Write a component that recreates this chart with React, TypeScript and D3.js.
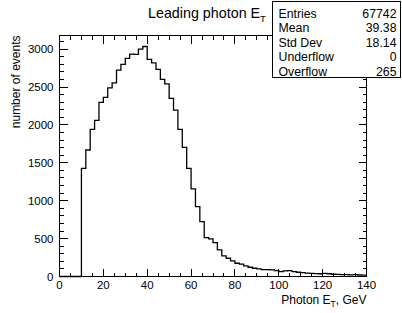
import React from 'react';
import * as d3 from 'd3';

// bin contents, 2 GeV bins from 0 to 140
const binLow = 0;
const binWidth = 2;
const counts = [
  0, 0, 0, 0, 0,
  1427, 1669, 1941, 2060, 2297, 2363, 2490, 2556, 2723, 2798, 2877, 2934, 2930, 3000, 3035,
  2864, 2819, 2732, 2600, 2543, 2350, 2196, 1941, 1704, 1427, 1155, 921, 724, 513, 496, 447,
  351, 271, 241, 206, 175, 162, 140, 122, 109, 100, 91, 91, 87, 78, 65, 74, 78, 65, 56,
  50, 45, 42, 38, 36, 40, 36, 30, 28, 26, 24, 22, 26, 20, 18,
];

const xMajor = [0, 20, 40, 60, 80, 100, 120, 140];
const yMajor = [0, 500, 1000, 1500, 2000, 2500, 3000];

const statLabels = ['Entries', 'Mean', 'Std Dev', 'Underflow', 'Overflow'];
const statValues = ['67742', '39.38', '18.14', '0', '265'];

const W = 402;
const H = 313;
const font = '"Liberation Sans", Arial, Helvetica, sans-serif';

const App: React.FC = () => {
  const x = d3.scaleLinear().domain([0, 140]).range([59.5, 366.5]);
  const y = d3.scaleLinear().domain([0, 3180]).range([276.5, 35.5]);

  // outline of the histogram
  const pts: [number, number][] = [];
  counts.forEach((c, i) => {
    const lo = binLow + i * binWidth;
    pts.push([lo, c], [lo + binWidth, c]);
  });
  const line = d3.line<[number, number]>()
    .x(d => x(d[0]))
    .y(d => y(d[1]));

  const xMinor = d3.range(0, 141, 5).filter(v => v % 20 !== 0);
  const yMinor = d3.range(0, 3181, 100).filter(v => v % 500 !== 0);

  const [x0, x1] = x.range();
  const [y0, y1] = y.range();

  return (
    <svg width={W} height={H} style={{ position: 'absolute', left: 0, top: 0, background: '#fff' }}
      fontFamily={font}>
      <rect x={0} y={0} width={W} height={H} fill="#fff" />

      {/* frame */}
      <rect x={x0} y={y1} width={x1 - x0} height={y0 - y1} fill="none" stroke="#000" strokeWidth={1}
        shapeRendering="crispEdges" />

      {/* ticks on all four sides */}
      <g stroke="#000" strokeWidth={1} shapeRendering="crispEdges">
        {xMajor.map(v => (
          <g key={'xm' + v}>
            <line x1={x(v)} x2={x(v)} y1={y0} y2={y0 - 8} />
            <line x1={x(v)} x2={x(v)} y1={y1} y2={y1 + 8} />
          </g>
        ))}
        {xMinor.map(v => (
          <g key={'xn' + v}>
            <line x1={x(v)} x2={x(v)} y1={y0} y2={y0 - 4} />
            <line x1={x(v)} x2={x(v)} y1={y1} y2={y1 + 4} />
          </g>
        ))}
        {yMajor.map(v => (
          <g key={'ym' + v}>
            <line x1={x0} x2={x0 + 8} y1={y(v)} y2={y(v)} />
            <line x1={x1} x2={x1 - 8} y1={y(v)} y2={y(v)} />
          </g>
        ))}
        {yMinor.map(v => (
          <g key={'yn' + v}>
            <line x1={x0} x2={x0 + 4} y1={y(v)} y2={y(v)} />
            <line x1={x1} x2={x1 - 4} y1={y(v)} y2={y(v)} />
          </g>
        ))}
      </g>

      {/* histogram */}
      <path d={line(pts) || ''} fill="none" stroke="#000" strokeWidth={1.3} />

      {/* tick labels */}
      <g fontSize={11.5} fill="#000">
        {xMajor.map(v => (
          <text key={'xl' + v} x={x(v)} y={y0 + 12} textAnchor="middle">{v}</text>
        ))}
        {yMajor.map(v => (
          <text key={'yl' + v} x={x0 - 6} y={y(v) + 4} textAnchor="end">{v}</text>
        ))}
      </g>

      {/* axis titles */}
      <text x={x1} y={304} textAnchor="end" fontSize={12}>
        Photon E<tspan fontSize={8.5} dy={3}>T</tspan><tspan dy={-3}>, GeV</tspan>
      </text>
      <text transform={`translate(19.5,${y1}) rotate(-90)`} textAnchor="end" fontSize={12}>
        number of events
      </text>

      {/* title */}
      <text x={148} y={18} fontSize={14.3}>
        Leading photon E<tspan fontSize={9.5} dy={4}>T</tspan>
      </text>

      {/* stats box */}
      <rect x={272.5} y={1.5} width={128} height={76} fill="#fff" stroke="#000" strokeWidth={1}
        shapeRendering="crispEdges" />
      <g fontSize={12.3}>
        {statLabels.map((s, i) => (
          <text key={s} x={278.5} y={17.5 + i * 14.5}>{s}</text>
        ))}
        {statValues.map((s, i) => (
          <text key={'v' + i} x={396.5} y={17.5 + i * 14.5} textAnchor="end">{s}</text>
        ))}
      </g>
    </svg>
  );
};

export default App;
